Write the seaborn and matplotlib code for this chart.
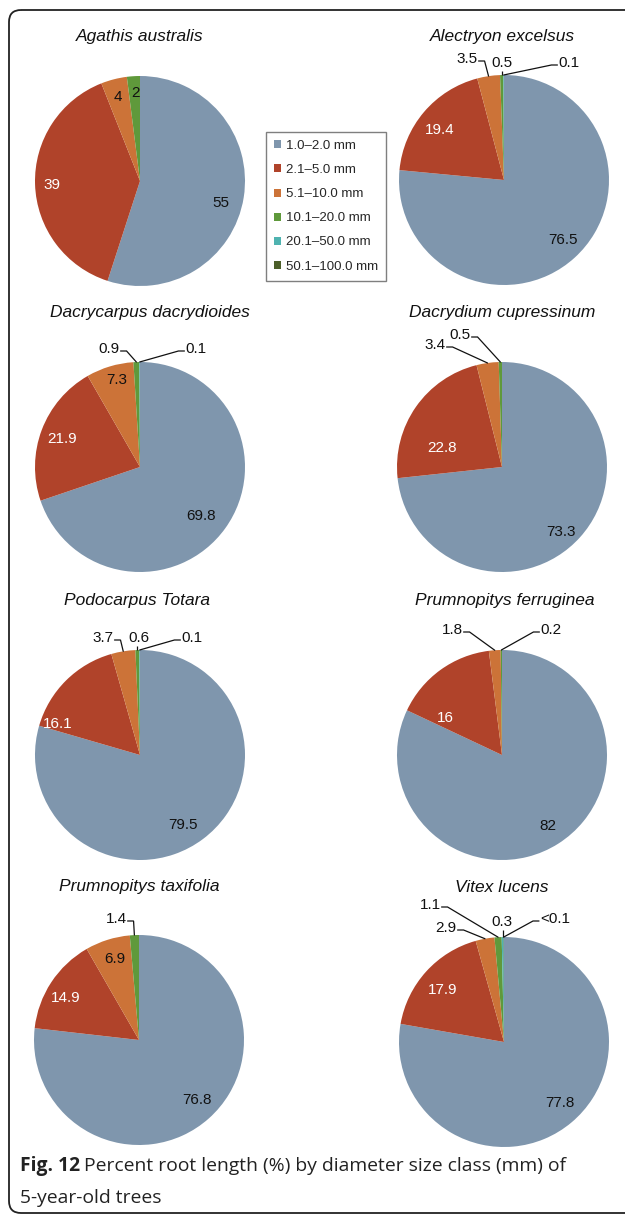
import math
import matplotlib
matplotlib.use("Agg")
import matplotlib.pyplot as plt
import seaborn as sns
from matplotlib.patches import FancyBboxPatch, Patch

# ---------------- data ----------------
classes = ["1.0–2.0 mm", "2.1–5.0 mm", "5.1–10.0 mm", "10.1–20.0 mm",
           "20.1–50.0 mm", "50.1–100.0 mm"]
species = ["Agathis australis", "Alectryon excelsus", "Dacrycarpus dacrydioides",
           "Dacrydium cupressinum", "Podocarpus Totara", "Prumnopitys ferruginea",
           "Prumnopitys taxifolia", "Vitex lucens"]

agathis = [55, 39, 4, 2, 0, 0]
alectryon = [76.5, 19.4, 3.5, 0.5, 0.1, 0]
dacrycarpus = [69.8, 21.9, 7.3, 0.9, 0.1, 0]
dacrydium = [73.3, 22.8, 3.4, 0.5, 0, 0]
podocarpus = [79.5, 16.1, 3.7, 0.6, 0.1, 0]
ferruginea = [82, 16, 1.8, 0.2, 0, 0]
taxifolia = [76.8, 14.9, 6.9, 1.4, 0, 0]
vitex = [77.8, 17.9, 2.9, 1.1, 0.3, 0.05]   # last value shown as "<0.1"

all_values = [agathis, alectryon, dacrycarpus, dacrydium,
              podocarpus, ferruginea, taxifolia, vitex]


def fmt(v):
    return "<0.1" if v < 0.1 else format(v, "g")


# ---------------- style ----------------
sns.set_theme(style="white")
plt.rcParams["font.family"] = ["Liberation Sans", "DejaVu Sans"]
palette = sns.color_palette(["#7f96ad", "#b0432a", "#cc7338", "#5f993b",
                             "#4fb3b0", "#4c5f2a"])

W, H = 625, 1217
R = 105
fig = plt.figure(figsize=(W / 100, H / 100), dpi=100)
fig.patch.set_facecolor("white")

# layout: pie centres, titles, label positions (pixels) and leader type
layout = [
    dict(c=(140, 181), t=(140, 37),
         lab={0: (221, 203, None), 1: (52, 185, None), 2: (118, 97, None), 3: (135, 93, None)}),
    dict(c=(504, 180), t=(502, 37),
         lab={0: (563, 240, None), 1: (440, 130, None), 2: (467, 59, "h"),
              3: (502, 63, "v"), 4: (569, 63, "h")}),
    dict(c=(140, 467), t=(150, 313),
         lab={0: (201, 516, None), 1: (62, 439, None), 2: (117, 380, None),
              3: (109, 349, "h"), 4: (196, 349, "h")}),
    dict(c=(502, 467), t=(502, 313),
         lab={0: (561, 532, None), 1: (442, 448, None), 2: (435, 345, "h"), 3: (460, 335, "h")}),
    dict(c=(140, 755), t=(137, 600),
         lab={0: (183, 825, None), 1: (58, 724, None), 2: (103, 638, "h"),
              3: (139, 638, "v"), 4: (192, 638, "h")}),
    dict(c=(502, 755), t=(505, 600),
         lab={0: (548, 826, None), 1: (445, 718, None), 2: (452, 630, "h"), 3: (551, 630, "h")}),
    dict(c=(139, 1040), t=(139, 887),
         lab={0: (197, 1100, None), 1: (66, 998, None), 2: (115, 959, None), 3: (116, 919, "h")}),
    dict(c=(504, 1042), t=(502, 887),
         lab={0: (560, 1103, None), 1: (443, 990, None), 2: (446, 928, "h"),
              3: (430, 905, "h"), 4: (502, 922, "v"), 5: (555, 919, "h")}),
]

# overlay canvas in pixel coordinates
canvas = fig.add_axes([0, 0, 1, 1], zorder=5)
canvas.set_xlim(0, W)
canvas.set_ylim(H, 0)
canvas.axis("off")
canvas.patch.set_alpha(0)

renderer = fig.canvas.get_renderer()

for name, vals, lay in zip(species, all_values, layout):
    cx, cy = lay["c"]
    ax = fig.add_axes([(cx - R) / W, 1 - (cy + R) / H, 2 * R / W, 2 * R / H], zorder=1)
    wedges, _ = ax.pie(vals, colors=palette, startangle=90, counterclock=False,
                       radius=1, wedgeprops=dict(linewidth=0))
    ax.set_xlim(-1, 1)
    ax.set_ylim(-1, 1)
    ax.set_aspect("equal")
    ax.axis("off")

    canvas.text(lay["t"][0], lay["t"][1], name, ha="center", va="center",
                fontsize=12.5, style="italic", color="#111111")

    for i, (lx, ly, kind) in lay["lab"].items():
        col = "white" if i == 1 else "#111111"
        t = canvas.text(lx, ly, fmt(vals[i]), ha="center", va="center",
                        fontsize=11, color=col)
        if kind is None:
            continue
        w = wedges[i]
        mid = math.radians((w.theta1 + w.theta2) / 2)
        axp = cx + R * math.cos(mid)
        ayp = cy - R * math.sin(mid)
        bb = t.get_window_extent(renderer)
        if kind == "v":
            canvas.plot([axp, axp], [ly + 8, ayp], color="#111111", lw=0.9,
                        clip_on=False, solid_capstyle="butt")
        else:
            yl = ly + 2
            if axp > lx:
                x0 = bb.x1 + 1
                x1 = x0 + 6
            else:
                x0 = bb.x0 - 1
                x1 = x0 - 6
            canvas.plot([x0, x1, axp], [yl, yl, ayp], color="#111111", lw=0.9,
                        clip_on=False, solid_joinstyle="miter")

# legend
handles = [Patch(facecolor=c, edgecolor="none") for c in palette]
fig.legend(handles, classes, loc="upper left",
           bbox_to_anchor=(266 / W, 1 - 132 / H), frameon=True, fancybox=False,
           edgecolor="#7f7f7f", framealpha=1, fontsize=9.5, handlelength=0.55,
           handleheight=0.55, handletextpad=0.35, labelspacing=0.92,
           borderpad=0.6, borderaxespad=0)

# border
border = FancyBboxPatch((9, 10), 700, 1203, boxstyle="round,pad=0,rounding_size=12",
                        fill=False, lw=1.3, ec="#222222", clip_on=False)
canvas.add_patch(border)

# caption
cap_font = ["Open Sans", "DejaVu Sans"]
b = canvas.text(20, 1166, "Fig. 12", ha="left", va="center", fontsize=13.9,
                fontweight="bold", family=cap_font, color="#222222")
bbx = b.get_window_extent(renderer)
canvas.text(bbx.x1 + 4, 1166, "Percent root length (%) by diameter size class (mm) of",
            ha="left", va="center", fontsize=13.9, family=cap_font, color="#222222")
canvas.text(20, 1198, "5-year-old trees", ha="left", va="center", fontsize=13.9,
            family=cap_font, color="#222222")

fig.savefig("out.png", dpi=100)
